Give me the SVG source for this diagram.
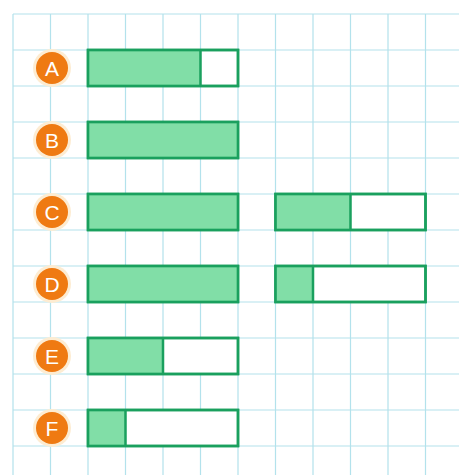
<svg xmlns="http://www.w3.org/2000/svg" width="459" height="475" viewBox="0 0 459 475">
<defs>
<style>
.g{stroke:#b3e2ec;stroke-width:1.2;fill:none}
.bar{fill:#ffffff;stroke:#1aa05e;stroke-width:2.5}
.fill{fill:#62d691;fill-opacity:0.8}
.halo{fill:#fdecd2}
.dot{fill:#ef7a12}
.lbl{font-family:"Liberation Sans","DejaVu Sans",sans-serif;font-size:21px;fill:#ffffff;text-anchor:middle;dominant-baseline:central}
</style>
</defs>
<rect width="459" height="475" fill="#ffffff"/>
<g id="grid">
<path class="g" d="M13,14V475M50.5,14V475M88,14V475M125.5,14V475M163,14V475M200.5,14V475M238,14V475M275.5,14V475M313,14V475M350.5,14V475M388,14V475M425.5,14V475"/>
<path class="g" d="M13,14H459M13,50H459M13,86H459M13,122H459M13,158H459M13,194H459M13,230H459M13,266H459M13,302H459M13,338H459M13,374H459M13,410H459M13,446H459"/>
</g>
<g id="A">
<circle class="halo" cx="52" cy="68" r="19"/><circle class="dot" cx="52" cy="68" r="16"/><text class="lbl" x="52" y="68">A</text>
<rect class="bar" x="88" y="50" width="150" height="36"/>
<rect class="fill" x="88" y="50" width="112.5" height="36"/>
<path d="M88,50H238V86H88ZM200.5,50V86" fill="none" stroke="#1aa05e" stroke-width="2.5"/>
</g>
<g id="B">
<circle class="halo" cx="52" cy="140" r="19"/><circle class="dot" cx="52" cy="140" r="16"/><text class="lbl" x="52" y="140">B</text>
<rect class="bar" x="88" y="122" width="150" height="36"/>
<rect class="fill" x="88" y="122" width="150" height="36"/>
<rect x="88" y="122" width="150" height="36" fill="none" stroke="#1aa05e" stroke-width="2.5"/>
</g>
<g id="C">
<circle class="halo" cx="52" cy="212" r="19"/><circle class="dot" cx="52" cy="212" r="16"/><text class="lbl" x="52" y="212">C</text>
<rect class="bar" x="88" y="194" width="150" height="36"/>
<rect class="fill" x="88" y="194" width="150" height="36"/>
<rect x="88" y="194" width="150" height="36" fill="none" stroke="#1aa05e" stroke-width="2.5"/>
<rect class="bar" x="275.5" y="194" width="150" height="36"/>
<rect class="fill" x="275.5" y="194" width="75" height="36"/>
<path d="M275.5,194H425.5V230H275.5ZM350.5,194V230" fill="none" stroke="#1aa05e" stroke-width="2.5"/>
</g>
<g id="D">
<circle class="halo" cx="52" cy="284" r="19"/><circle class="dot" cx="52" cy="284" r="16"/><text class="lbl" x="52" y="284">D</text>
<rect class="bar" x="88" y="266" width="150" height="36"/>
<rect class="fill" x="88" y="266" width="150" height="36"/>
<rect x="88" y="266" width="150" height="36" fill="none" stroke="#1aa05e" stroke-width="2.5"/>
<rect class="bar" x="275.5" y="266" width="150" height="36"/>
<rect class="fill" x="275.5" y="266" width="37.5" height="36"/>
<path d="M275.5,266H425.5V302H275.5ZM313,266V302" fill="none" stroke="#1aa05e" stroke-width="2.5"/>
</g>
<g id="E">
<circle class="halo" cx="52" cy="356" r="19"/><circle class="dot" cx="52" cy="356" r="16"/><text class="lbl" x="52" y="356">E</text>
<rect class="bar" x="88" y="338" width="150" height="36"/>
<rect class="fill" x="88" y="338" width="75" height="36"/>
<path d="M88,338H238V374H88ZM163,338V374" fill="none" stroke="#1aa05e" stroke-width="2.5"/>
</g>
<g id="F">
<circle class="halo" cx="52" cy="428" r="19"/><circle class="dot" cx="52" cy="428" r="16"/><text class="lbl" x="52" y="428">F</text>
<rect class="bar" x="88" y="410" width="150" height="36"/>
<rect class="fill" x="88" y="410" width="37.5" height="36"/>
<path d="M88,410H238V446H88ZM125.5,410V446" fill="none" stroke="#1aa05e" stroke-width="2.5"/>
</g>
<g id="connectors"/>
</svg>
